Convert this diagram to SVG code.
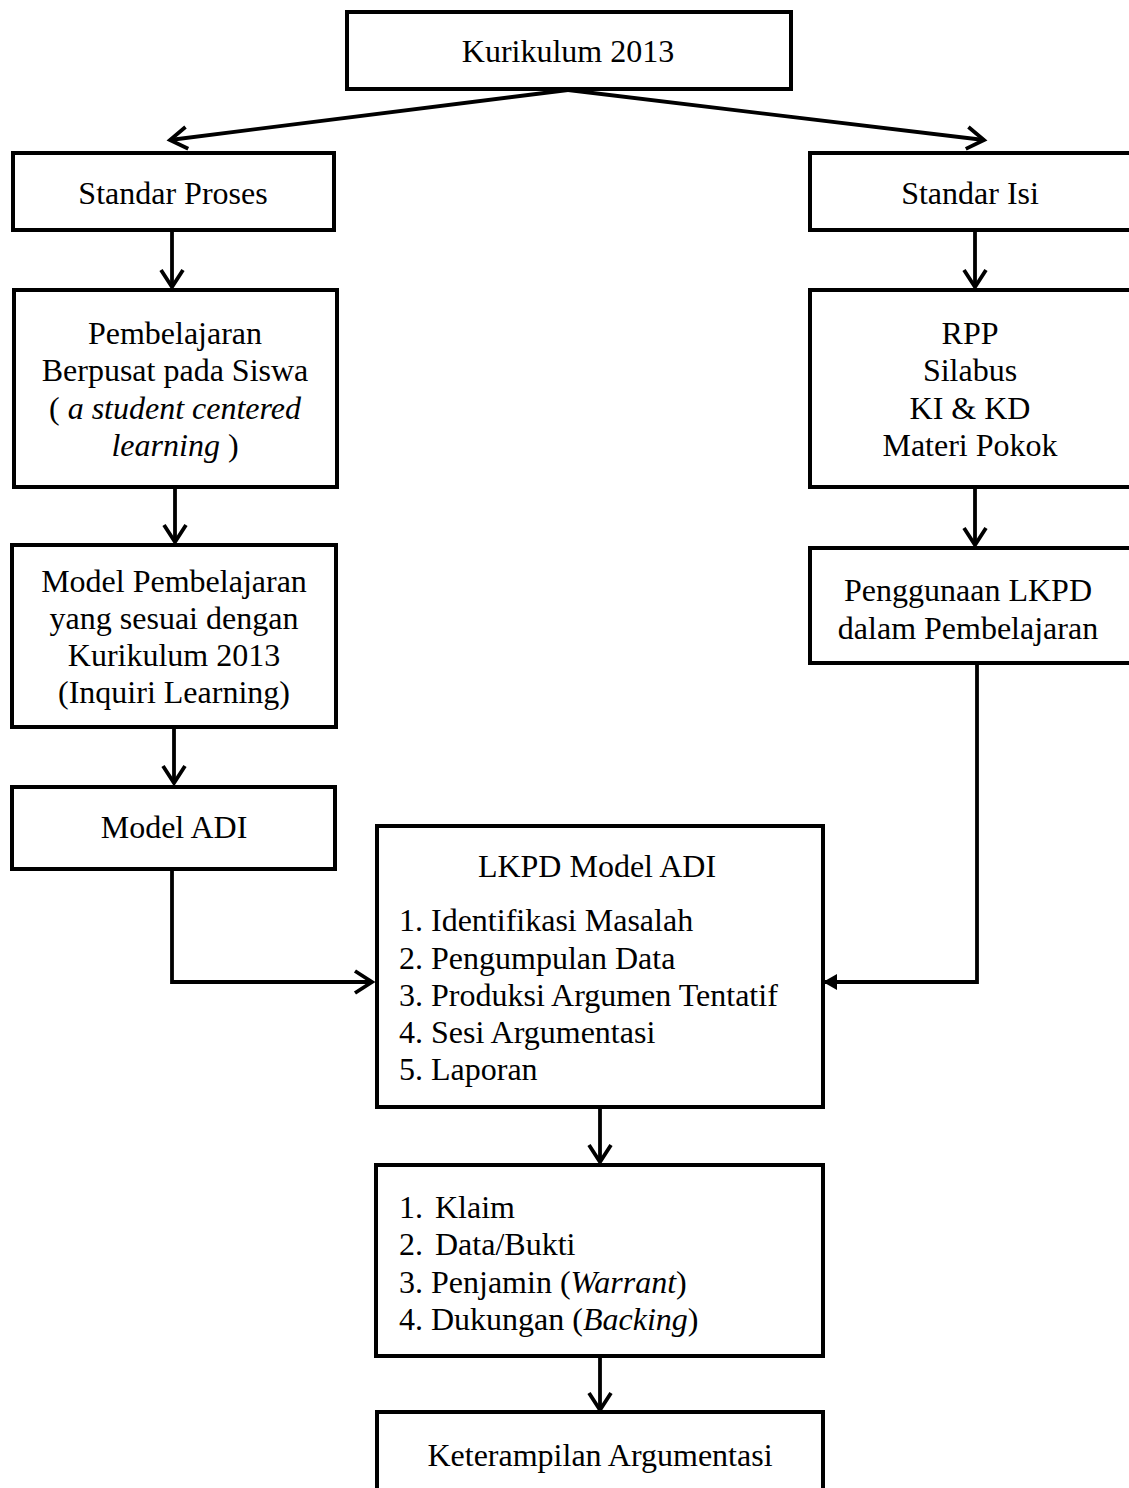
<svg xmlns="http://www.w3.org/2000/svg" width="1129" height="1488" viewBox="0 0 1129 1488">
<style>
.box{fill:#fff;stroke:#000;stroke-width:4}
.t{font-family:"Liberation Serif","Times New Roman",serif;font-size:32px;fill:#000}
.c{text-anchor:middle}
.ln{fill:none;stroke:#000;stroke-width:3.8}
</style>
<defs>
<marker id="open" markerUnits="userSpaceOnUse" markerWidth="30" markerHeight="30" viewBox="-22 -15 26 30" refX="0" refY="0" orient="auto">
<path d="M-17,-11 L0,0 L-17,11" fill="none" stroke="#000" stroke-width="3.8"/>
</marker>
<marker id="filled" markerUnits="userSpaceOnUse" markerWidth="30" markerHeight="30" viewBox="-16 -15 20 30" refX="0" refY="0" orient="auto">
<path d="M0,0 L-14,-8 L-14,8 Z" fill="#000"/>
</marker>
</defs>
<rect width="1129" height="1488" fill="#fff"/>
<g id="connectors">
<line class="ln" x1="568" y1="90" x2="170" y2="140" marker-end="url(#open)"/>
<line class="ln" x1="568" y1="90" x2="984" y2="140" marker-end="url(#open)"/>
<line class="ln" x1="172" y1="232" x2="172" y2="287" marker-end="url(#open)"/>
<line class="ln" x1="175" y1="487" x2="175" y2="542" marker-end="url(#open)"/>
<line class="ln" x1="174" y1="727" x2="174" y2="783" marker-end="url(#open)"/>
<polyline class="ln" points="172,869 172,982 372,982" marker-end="url(#open)"/>
<line class="ln" x1="975" y1="232" x2="975" y2="287" marker-end="url(#open)"/>
<line class="ln" x1="975" y1="487" x2="975" y2="545" marker-end="url(#open)"/>
<polyline class="ln" points="977,663 977,982 823,982" marker-end="url(#filled)"/>
<line class="ln" x1="600" y1="1107" x2="600" y2="1162" marker-end="url(#open)"/>
<line class="ln" x1="600" y1="1356" x2="600" y2="1410" marker-end="url(#open)"/>
</g>
<g id="kurikulum">
<rect class="box" x="347" y="12" width="444" height="77"/>
<text class="t c" x="568" y="62">Kurikulum 2013</text>
</g>
<g id="standar-proses">
<rect class="box" x="13" y="153" width="321" height="77"/>
<text class="t c" x="173" y="204">Standar Proses</text>
</g>
<g id="standar-isi">
<rect class="box" x="810" y="153" width="330" height="77"/>
<text class="t c" x="970" y="204">Standar Isi</text>
</g>
<g id="pembelajaran">
<rect class="box" x="14" y="290" width="323" height="197"/>
<text class="t c" x="175" y="344">Pembelajaran</text>
<text class="t c" x="175" y="381">Berpusat pada Siswa</text>
<text class="t c" x="175" y="419">( <tspan font-style="italic">a student centered</tspan></text>
<text class="t c" x="175" y="456"><tspan font-style="italic">learning</tspan> )</text>
</g>
<g id="rpp">
<rect class="box" x="810" y="290" width="330" height="197"/>
<text class="t c" x="970" y="344">RPP</text>
<text class="t c" x="970" y="381">Silabus</text>
<text class="t c" x="970" y="419">KI &amp; KD</text>
<text class="t c" x="970" y="456">Materi Pokok</text>
</g>
<g id="model-pembelajaran">
<rect class="box" x="12" y="545" width="324" height="182"/>
<text class="t c" x="174" y="592">Model Pembelajaran</text>
<text class="t c" x="174" y="629">yang sesuai dengan</text>
<text class="t c" x="174" y="666">Kurikulum 2013</text>
<text class="t c" x="174" y="703">(Inquiri Learning)</text>
</g>
<g id="penggunaan-lkpd">
<rect class="box" x="810" y="548" width="330" height="115"/>
<text class="t c" x="968" y="601">Penggunaan LKPD</text>
<text class="t c" x="968" y="639">dalam Pembelajaran</text>
</g>
<g id="model-adi">
<rect class="box" x="12" y="787" width="323" height="82"/>
<text class="t c" x="174" y="838">Model ADI</text>
</g>
<g id="lkpd-model-adi">
<rect class="box" x="377" y="826" width="446" height="281"/>
<text class="t c" x="597" y="877">LKPD Model ADI</text>
<text class="t" x="399" y="931">1. Identifikasi Masalah</text>
<text class="t" x="399" y="969">2. Pengumpulan Data</text>
<text class="t" x="399" y="1006">3. Produksi Argumen Tentatif</text>
<text class="t" x="399" y="1043">4. Sesi Argumentasi</text>
<text class="t" x="399" y="1080">5. Laporan</text>
</g>
<g id="argumen">
<rect class="box" x="376" y="1165" width="447" height="191"/>
<text class="t" x="399" y="1218">1.<tspan x="435">Klaim</tspan></text>
<text class="t" x="399" y="1255">2.<tspan x="435">Data/Bukti</tspan></text>
<text class="t" x="399" y="1293">3. Penjamin (<tspan font-style="italic">Warrant</tspan>)</text>
<text class="t" x="399" y="1330">4. Dukungan (<tspan font-style="italic">Backing</tspan>)</text>
</g>
<g id="keterampilan">
<rect class="box" x="377" y="1412" width="446" height="100"/>
<text class="t c" x="600" y="1466">Keterampilan Argumentasi</text>
</g>
</svg>
